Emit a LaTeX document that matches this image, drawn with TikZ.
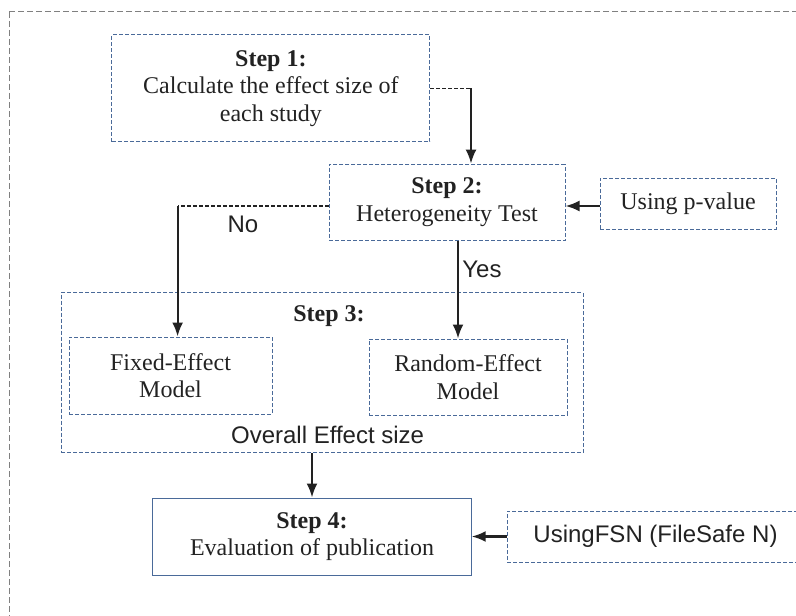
\documentclass[tikz,border=0pt]{standalone}
\usepackage{fontspec}
\setmainfont{Liberation Serif}
\setsansfont{Liberation Sans}
\usetikzlibrary{arrows.meta,positioning,calc}
\definecolor{boxblue}{HTML}{4A6A99}
\definecolor{framegray}{HTML}{808080}
\definecolor{ink}{HTML}{222222}
\tikzset{
  stepbox/.style={
    draw=boxblue,
    line width=0.5pt,
    dash pattern=on 2pt off 1pt,
    align=center,
    inner sep=0pt,
    text=ink,
    font=\fontsize{12}{13.8}\selectfont
  },
  solidbox/.style={stepbox, solid},
  groupbox/.style={stepbox},
  tag/.style={font=\sffamily\fontsize{12}{13.5}\selectfont, text=ink, inner sep=0pt},
  flow/.style={-{Latex[length=7pt,width=5.5pt]}, line width=1.1pt, draw=ink},
  dashflow/.style={line width=0.6pt, draw=ink, dash pattern=on 2pt off 1pt}
}

\begin{document}
\begin{tikzpicture}[x=0.5pt, y=-0.5pt]
\useasboundingbox (0,0) rectangle (796,615);
\draw[framegray, line width=0.5pt, dash pattern=on 3pt off 1.5pt] (9,12) rectangle (840,660);

\node[stepbox, minimum width=159pt, minimum height=53.3pt] (step1) at (270.9,88.3) {\textbf{Step 1:}\\Calculate the effect size of\\each study};
\node[stepbox, minimum width=118pt, minimum height=38.2pt] (step2) at (447,202.3) {\textbf{Step 2:}\\Heterogeneity Test};
\node[stepbox, minimum width=88pt, minimum height=25.5pt] (pval) at (688,203.5) {Using p-value};

\node[groupbox, minimum width=261pt, minimum height=80pt] (step3) at (322,372.7) {};
\node[stepbox, draw=none] (step3title) at (329,316) {\textbf{Step 3:}};
\node[stepbox, minimum width=101.5pt, minimum height=38.5pt] (fixed) at (170.5,375.5) {Fixed-Effect\\Model};
\node[stepbox, minimum width=99pt, minimum height=38pt] (random) at (468,377) {Random-Effect\\Model};
\node[tag] (overall) at (327.6,435) {Overall Effect size};

\node[solidbox, minimum width=159.2pt, minimum height=38.5pt] (step4) at (312,536.5) {\textbf{Step 4:}\\Evaluation of publication};
\node[stepbox, minimum width=148.5pt, minimum height=25.5pt] (fsn) at (655.5,536.5) {\sffamily UsingFSN (FileSafe N)};

% step 1 -> step 2
\coordinate (k1) at (471,88.3);
\draw[dashflow] (step1.east) -- (k1);
\draw[flow] (k1) -- (k1 |- step2.north);

% step 2 -> models
\coordinate (k2) at (177.6,206);
\draw[dashflow] (k2 -| step2.west) -- (k2);
\draw[flow] (k2) -- (k2 |- fixed.north);
\node[tag] (no) at (243,224) {No};
\coordinate (k3) at (458,0);
\draw[flow] (k3 |- step2.south) -- (k3 |- random.north);
\node[tag, anchor=west] (yes) at (462,269) {Yes};

\draw[flow] (pval.west |- k2) -- (step2.east |- k2);
\draw[flow] (step4.north |- step3.south) -- (step4.north);
\draw[flow] (fsn.west) -- (step4.east);
\end{tikzpicture}
\end{document}
